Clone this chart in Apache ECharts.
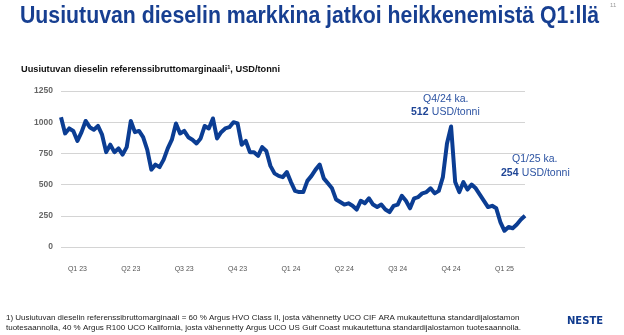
<!DOCTYPE html>
<html>
<head>
<meta charset="utf-8">
<script src="https://cdn.jsdelivr.net/npm/echarts@6/dist/echarts.min.js"></script>
<style>
html,body{margin:0;padding:0;background:#fff;}
#c{width:624px;height:335px;}
</style>
</head>
<body>
<div id="c"></div>
<script>
const values2023 = [
  1040, 910, 950, 930, 850, 920, 1010, 960, 940, 970, 900, 760, 820,
  760, 790, 740, 800, 1010, 920, 930, 880, 780, 620, 660, 640, 700,
  790, 860, 990, 910, 930, 880, 860, 830, 870, 970, 950, 1030, 870,
  920, 950, 960, 1000, 990, 820, 850, 760, 760, 730, 800, 770, 650
];
const values2024 = [
  590, 570, 560, 600, 520, 450, 440, 440, 530, 570, 620, 660, 550,
  510, 470, 380, 360, 340, 350, 330, 300, 370, 350, 390, 340, 320,
  340, 300, 280, 330, 340, 410, 370, 310, 390, 400, 430, 440, 470,
  430, 450, 560, 830, 965, 520, 440, 520, 460, 500, 470, 420, 370
];
const values2025 = [320, 330, 310, 200, 130, 160, 150, 180, 220, 250];

const quarterLabels = ['Q1 23','Q2 23','Q3 23','Q4 23','Q1 24','Q2 24','Q3 24','Q4 24','Q1 25'];
const weeksPerQuarter = 13;
const labelOffset = 4;
const yTicks = [0, 250, 500, 750, 1000, 1250];

const series = values2023.concat(values2024, values2025);
const categories = series.map((_, i) => i);

const labelAt = {};
quarterLabels.forEach((q, k) => { labelAt[k * weeksPerQuarter + labelOffset] = q; });

const chart = echarts.init(document.getElementById('c'), null, {renderer: 'canvas'});
const blueText = '#2c53a2';
const FF = 'Liberation Sans, Arial, sans-serif';
chart.setOption({
  backgroundColor: '#ffffff',
  animation: false,
  grid: {left: 61, right: 99, top: 91, bottom: 88, containLabel: false},
  xAxis: {
    type: 'category',
    data: categories,
    boundaryGap: false,
    axisLine: {show: false},
    axisTick: {show: false},
    axisLabel: {
      interval: (i) => labelAt[i] !== undefined,
      formatter: (v, i) => labelAt[i] || '',
      fontFamily: FF,
      fontSize: 7, color: '#555', margin: 19
    },
    splitLine: {show: false}
  },
  yAxis: {
    type: 'value',
    min: 0, max: 1250, interval: 250,
    axisLine: {show: false},
    axisTick: {show: false},
    axisLabel: {
      fontFamily: FF,
      fontSize: 8.5, fontWeight: 'bold', color: '#666', margin: 8,
      formatter: (v) => yTicks.includes(v) ? String(v) : ''
    },
    splitLine: {lineStyle: {color: '#d4d4d4', width: 1}}
  },
  series: [{
    type: 'line',
    data: series,
    symbol: 'none',
    smooth: false,
    lineStyle: {color: '#0b3d93', width: 4, join: 'round'}
  }],
  graphic: [
    {type: 'text', x: 20, y: 5, scaleX: 0.905, style: {
      text: 'Uusiutuvan dieselin markkina jatkoi heikkenemistä Q1:llä',
      font: 'bold 23.5px ' + FF, fill: '#173f91', verticalAlign: 'top'
    }},
    {type: 'text', x: 21, y: 64, scaleX: 0.94, style: {
      text: '{a|Uusiutuvan dieselin referenssibruttomarginaali}{s|1}{a|, USD/tonni}',
      verticalAlign: 'top',
      rich: {
        a: {font: 'bold 9.8px ' + FF, fill: '#111'},
        s: {font: 'bold 6px ' + FF, fill: '#111', verticalAlign: 'top', padding: [0,0,4,0]}
      }
    }},
    {type: 'text', left: 423, top: 94, style: {text: 'Q4/24 ka.', font: '10.5px ' + FF, fill: blueText}},
    {type: 'text', left: 411, top: 106, style: {
      text: '{b|512} {n|USD/tonni}',
      rich: {b: {font: 'bold 10.5px ' + FF, fill: '#1f4596'}, n: {font: '10.5px ' + FF, fill: blueText}}
    }},
    {type: 'text', left: 512, top: 154, style: {text: 'Q1/25 ka.', font: '10.5px ' + FF, fill: blueText}},
    {type: 'text', left: 501, top: 167, style: {
      text: '{b|254} {n|USD/tonni}',
      rich: {b: {font: 'bold 10.5px ' + FF, fill: '#1f4596'}, n: {font: '10.5px ' + FF, fill: blueText}}
    }},
    {type: 'text', left: 610, top: 2, style: {text: '11', font: '6px ' + FF, fill: '#999'}},
    {type: 'text', left: 6, top: 313, style: {
      text: '1) Uusiutuvan dieselin referenssibruttomarginaali = 60 % Argus HVO Class II, josta vähennetty UCO CIF ARA mukautettuna standardijalostamon\ntuotesaannolla, 40 % Argus R100 UCO Kalifornia, josta vähennetty Argus UCO US Gulf Coast mukautettuna standardijalostamon tuotesaannolla.',
      font: '8px ' + FF, fill: '#222', lineHeight: 10
    }},
    {type: 'text', left: 567, top: 316, style: {text: 'NESTE', font: 'bold 10px DejaVu Sans, sans-serif', fill: '#103b8e'}}
  ]
});
</script>
</body>
</html>
